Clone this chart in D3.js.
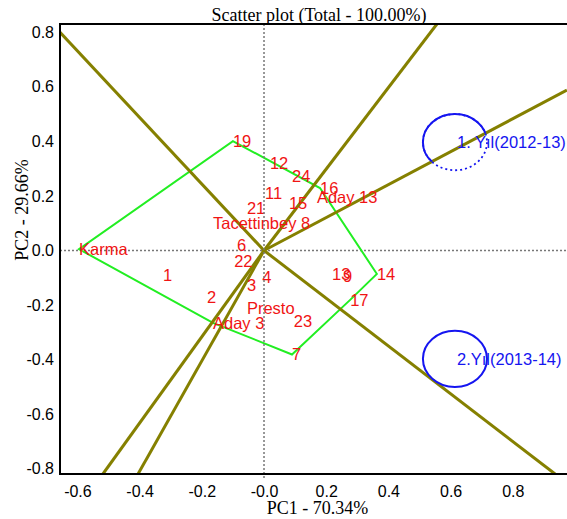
<!DOCTYPE html>
<html><head><meta charset="utf-8">
<script src="https://cdn.jsdelivr.net/npm/d3@7"></script>
<style>body{margin:0;background:#fff} svg{display:block}</style>
</head><body><svg id="c" width="567" height="519"></svg>
<script>
// ---- data ----
const genotypeLabels = ["Karma","19","12","24","16","Aday 13","11","15","21","Tacettinbey","8","6","22","1","4","3","13","9","14","2","17","Presto","Aday 3","23","7"];
const genotypePC1 = [-0.595,-0.100,0.019,0.090,0.180,0.170,0.003,0.080,-0.055,-0.164,0.119,-0.087,-0.096,-0.325,-0.006,-0.055,0.219,0.254,0.363,-0.183,0.277,-0.055,-0.164,0.096,0.090];
const genotypePC2 = [0.005,0.401,0.321,0.273,0.229,0.196,0.211,0.174,0.156,0.101,0.101,0.020,-0.038,-0.090,-0.097,-0.126,-0.086,-0.093,-0.086,-0.171,-0.181,-0.210,-0.265,-0.258,-0.381];
const envLabels = ["1. Yıl(2012-13)","2.Yıl(2013-14)"];
const envPC1 = [0.614,0.614];
const envPC2 = [0.397,-0.397];
const envRadius = [0.103,0.103];
const rayPC1 = [-0.656,0.936,0.556,0.974,-0.518,-0.405];
const rayPC2 = [0.800,-0.819,0.830,0.588,-0.819,-0.819];
const xTicks = [-0.6,-0.4,-0.2,0,0.2,0.4,0.6,0.8];
const xTickLabels = ["-0.6","-0.4","-0.2","-0.0","0.2","0.4","0.6","0.8"];
const yTicks = [-0.8,-0.6,-0.4,-0.2,0,0.2,0.4,0.6,0.8];
const yTickLabels = ["-0.8","-0.6","-0.4","-0.2","0.0","0.2","0.4","0.6","0.8"];
const titleText = "Scatter plot (Total - 100.00%)";
const xTitle = "PC1 - 70.34%";
const yTitle = "PC2 - 29.66%";

// ---- drawing ----
const svg = d3.select("#c");
const L = 60, R = 575, T = 24, B = 474;
const x = d3.scaleLinear().domain([-0.656, 1.0]).range([L, R]);
const y = d3.scaleLinear().domain([-0.819, 0.830]).range([B, T]);
const sans = "'Liberation Sans', Arial, sans-serif";
const serif = "'Liberation Serif', 'Times New Roman', serif";

const defs = svg.append("defs");
defs.append("clipPath").attr("id","plotclip").append("rect")
  .attr("x",L).attr("y",T).attr("width",R-L).attr("height",B-T);

const plot = svg.append("g").attr("clip-path","url(#plotclip)");

// dotted zero lines
plot.append("line").attr("x1",L).attr("x2",R).attr("y1",y(0)).attr("y2",y(0))
  .attr("stroke","#777").attr("stroke-width",1.5).attr("stroke-dasharray","2,2");
svg.append("line").attr("x1",x(0)).attr("x2",x(0)).attr("y1",T).attr("y2",B+4)
  .attr("stroke","#777").attr("stroke-width",1.5).attr("stroke-dasharray","2,2");

// hull polygon
const pts = genotypePC1.map((v,i)=>[x(v), y(genotypePC2[i])]);
const hull = d3.polygonHull(pts);
plot.append("path").attr("d","M"+hull.map(p=>p.join(",")).join("L")+"Z")
  .attr("fill","none").attr("stroke","#22ee22").attr("stroke-width",2);

// rays
plot.selectAll("line.ray").data(rayPC1).join("line").attr("class","ray")
  .attr("x1",x(0)).attr("y1",y(0))
  .attr("x2",d=>x(d)).attr("y2",(d,i)=>y(rayPC2[i]))
  .attr("stroke","#858000").attr("stroke-width",3);

// genotype labels
plot.selectAll("text.g").data(genotypeLabels).join("text").attr("class","g")
  .attr("x",(d,i)=>x(genotypePC1[i])).attr("y",(d,i)=>y(genotypePC2[i]))
  .attr("dominant-baseline","central")
  .attr("font-family",sans).attr("font-size",16.5).attr("fill","#f01414")
  .text(d=>d);

// environment circles
const rayE = 3; // ray splitting circle 1
const ox = x(0), oy = y(0);
const dx = x(rayPC1[rayE]) - ox, dy = y(rayPC2[rayE]) - oy;
const above = [[ox-10*dx, oy-10*dy],[ox+10*dx, oy+10*dy],[ox+10*dx, oy+10*dy-2000],[ox-10*dx, oy-10*dy-2000]];
defs.append("clipPath").attr("id","aboveRay").append("polygon")
  .attr("points", above.map(p=>p.join(",")).join(" "));

envLabels.forEach((lab,i)=>{
  const cx = x(envPC1[i]), cy = y(envPC2[i]);
  const rx = x(envPC1[i]+envRadius[i]) - cx, ry = cy - y(envPC2[i]+envRadius[i]);
  if (i === 0) {
    plot.append("ellipse").attr("cx",cx).attr("cy",cy).attr("rx",rx).attr("ry",ry)
      .attr("fill","none").attr("stroke","#1515f0").attr("stroke-width",1.8).attr("stroke-dasharray","2,3");
    plot.append("g").attr("clip-path","url(#aboveRay)").append("ellipse")
      .attr("cx",cx).attr("cy",cy).attr("rx",rx).attr("ry",ry)
      .attr("fill","none").attr("stroke","#1515f0").attr("stroke-width",2);
  } else {
    plot.append("ellipse").attr("cx",cx).attr("cy",cy).attr("rx",rx).attr("ry",ry)
      .attr("fill","none").attr("stroke","#1515f0").attr("stroke-width",2);
  }
  plot.append("text").attr("x",cx+2).attr("y",cy)
    .attr("dominant-baseline","central")
    .attr("font-family",sans).attr("font-size",16.5).attr("fill","#1515f0")
    .text(lab);
});

// frame
svg.append("rect").attr("x",L).attr("y",T).attr("width",R-L).attr("height",B-T)
  .attr("fill","none").attr("stroke","#000").attr("stroke-width",2);

// axes
const xa = svg.append("g").attr("transform",`translate(0,${B})`)
  .call(d3.axisBottom(x).tickValues(xTicks).tickFormat((d,i)=>xTickLabels[i]).tickSize(0).tickPadding(11.5));
const ya = svg.append("g").attr("transform",`translate(${L},0)`)
  .call(d3.axisLeft(y).tickValues(yTicks).tickFormat((d,i)=>yTickLabels[i]).tickSize(0).tickPadding(6));
[xa,ya].forEach(a=>{
  a.select(".domain").remove();
  a.selectAll("text").attr("font-family",sans).attr("font-size",16).attr("fill","#000");
});

// titles
svg.append("text").attr("x",319).attr("y",21).attr("text-anchor","middle")
  .attr("font-family",serif).attr("font-size",18).text(titleText);
svg.append("text").attr("x",317.5).attr("y",514).attr("text-anchor","middle")
  .attr("font-family",serif).attr("font-size",18).text(xTitle);
svg.append("text").attr("transform","translate(28,210) rotate(-90)").attr("text-anchor","middle")
  .attr("font-family",serif).attr("font-size",18).text(yTitle);
</script>
</body></html>
